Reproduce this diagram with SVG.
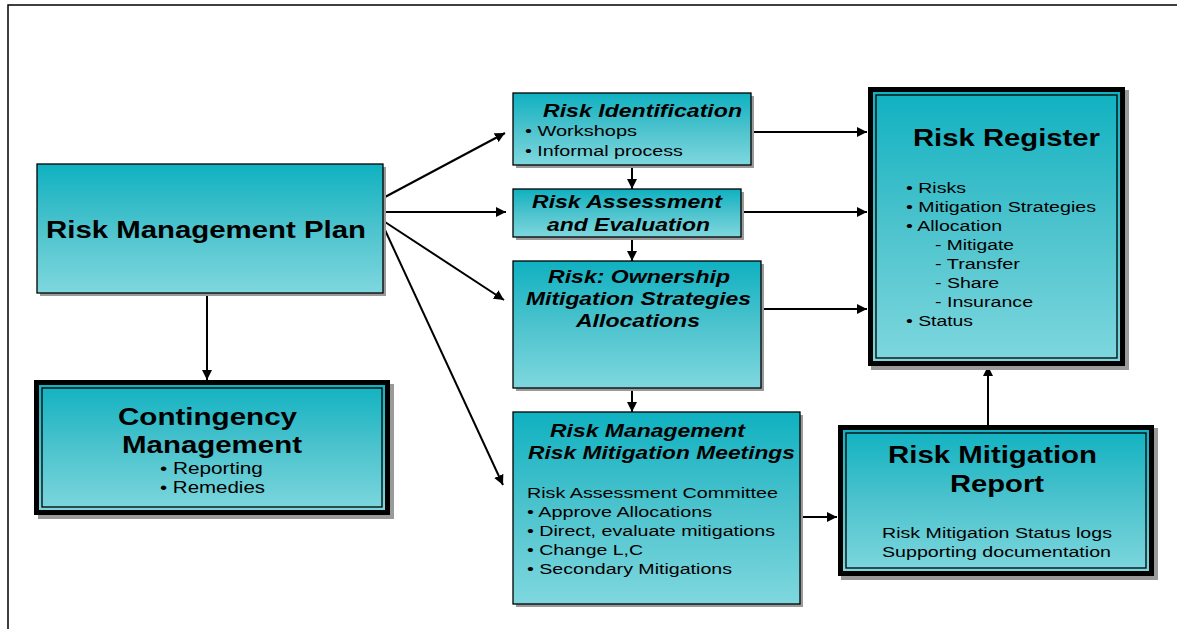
<svg xmlns="http://www.w3.org/2000/svg" width="1177" height="629" viewBox="0 0 1177 629">
<defs>
<linearGradient id="g" x1="0" y1="0" x2="0" y2="1">
<stop offset="0" stop-color="#0fb1c1"/>
<stop offset="0.5" stop-color="#4cc3cd"/>
<stop offset="1" stop-color="#7fd7de"/>
</linearGradient>
<marker id="arr" viewBox="0 0 10 10" refX="10" refY="5" markerWidth="10" markerHeight="10" markerUnits="userSpaceOnUse" orient="auto">
<path d="M0,0 L10,5 L0,10 z" fill="#000"/>
</marker>
<style>
.box{fill:url(#g);stroke:#000;stroke-width:1.3}
.shadow{fill:#9a9a9a}
.thick{fill:url(#g);stroke:#000;stroke-width:5}
.inner{fill:none;stroke:#000;stroke-width:1.3}
.c{stroke:#000;stroke-width:2;fill:none;marker-end:url(#arr)}
text{font-family:"Liberation Sans",Arial,sans-serif;fill:#000}
.t{font-weight:bold}
.ti{font-weight:bold;font-style:italic}
.s{font-size:15.5px}
</style>
</defs>
<rect x="0" y="0" width="1177" height="629" fill="#fff"/>
<rect x="8" y="5" width="1175" height="630" fill="none" stroke="#000" stroke-width="1.5"/>

<g id="connectors">
<line class="c" x1="207" y1="293" x2="207" y2="380"/>
<line class="c" x1="385" y1="197" x2="505" y2="133"/>
<line class="c" x1="385" y1="212" x2="506" y2="212"/>
<line class="c" x1="385" y1="222" x2="504" y2="300"/>
<line class="c" x1="385" y1="230" x2="503" y2="485"/>
<line class="c" x1="632" y1="165" x2="632" y2="189"/>
<line class="c" x1="632" y1="237" x2="632" y2="261"/>
<line class="c" x1="632" y1="388" x2="632" y2="412"/>
<line class="c" x1="751" y1="132" x2="867" y2="132"/>
<line class="c" x1="741" y1="212" x2="867" y2="212"/>
<line class="c" x1="761" y1="309" x2="867" y2="309"/>
<line class="c" x1="800" y1="517" x2="837" y2="517"/>
<line class="c" x1="988" y1="425" x2="988" y2="366"/>
</g>

<g id="risk-management-plan">
<rect class="shadow" x="40" y="167" width="346" height="129"/>
<rect class="box" x="37" y="164" width="346" height="129"/>
<text class="t" transform="matrix(1.27 0 0 1 46 238)" font-size="23" textLength="252" lengthAdjust="spacingAndGlyphs">Risk Management Plan</text>
</g>

<g id="contingency-management">
<rect class="shadow" x="38" y="384" width="356" height="135"/>
<rect class="thick" x="36.5" y="382.5" width="351" height="130"/>
<rect class="inner" x="42" y="388" width="340" height="119"/>
<text class="t" transform="matrix(1.27 0 0 1 118 425)" font-size="24" textLength="141" lengthAdjust="spacingAndGlyphs">Contingency</text>
<text class="t" transform="matrix(1.27 0 0 1 122 453)" font-size="24" textLength="141.7" lengthAdjust="spacingAndGlyphs">Management</text>
<text transform="matrix(1.27 0 0 1 160 474)" font-size="16" textLength="81" lengthAdjust="spacingAndGlyphs">•  Reporting</text>
<text transform="matrix(1.27 0 0 1 160 493)" font-size="16" textLength="82.7" lengthAdjust="spacingAndGlyphs">•  Remedies</text>
</g>

<g id="risk-identification">
<rect class="shadow" x="516" y="96" width="238" height="72"/>
<rect class="box" x="513" y="93" width="238" height="72"/>
<text class="ti" transform="matrix(1.27 0 0 1 543 117)" font-size="19" textLength="156.7" lengthAdjust="spacingAndGlyphs">Risk Identification</text>
<text class="s" transform="matrix(1.27 0 0 1 525 136)" textLength="88.2" lengthAdjust="spacingAndGlyphs">• Workshops</text>
<text class="s" transform="matrix(1.27 0 0 1 525 156)" textLength="124.4" lengthAdjust="spacingAndGlyphs">• Informal process</text>
</g>

<g id="risk-assessment">
<rect class="shadow" x="516" y="192" width="228" height="48"/>
<rect class="box" x="513" y="189" width="228" height="48"/>
<text class="ti" transform="matrix(1.27 0 0 1 532 208)" font-size="19" textLength="149.6" lengthAdjust="spacingAndGlyphs">Risk Assessment</text>
<text class="ti" transform="matrix(1.27 0 0 1 547 231)" font-size="19" textLength="128.3" lengthAdjust="spacingAndGlyphs">and Evaluation</text>
</g>

<g id="risk-ownership">
<rect class="shadow" x="516" y="264" width="248" height="127"/>
<rect class="box" x="513" y="261" width="248" height="127"/>
<text class="ti" transform="matrix(1.27 0 0 1 548 283)" font-size="19" textLength="143.3" lengthAdjust="spacingAndGlyphs">Risk: Ownership</text>
<text class="ti" transform="matrix(1.27 0 0 1 526 305)" font-size="19" textLength="177.2" lengthAdjust="spacingAndGlyphs">Mitigation Strategies</text>
<text class="ti" transform="matrix(1.27 0 0 1 576 327)" font-size="19" textLength="97.6" lengthAdjust="spacingAndGlyphs">Allocations</text>
</g>

<g id="risk-meetings">
<rect class="shadow" x="516" y="415" width="287" height="192"/>
<rect class="box" x="513" y="412" width="287" height="192"/>
<text class="ti" transform="matrix(1.27 0 0 1 550 437)" font-size="19" textLength="153.5" lengthAdjust="spacingAndGlyphs">Risk Management</text>
<text class="ti" transform="matrix(1.27 0 0 1 528 459)" font-size="19" textLength="210.2" lengthAdjust="spacingAndGlyphs">Risk Mitigation Meetings</text>
<text class="s" transform="matrix(1.27 0 0 1 527 498)" textLength="197.6" lengthAdjust="spacingAndGlyphs">Risk Assessment Committee</text>
<text class="s" transform="matrix(1.27 0 0 1 527 517)" textLength="145.7" lengthAdjust="spacingAndGlyphs">• Approve Allocations</text>
<text class="s" transform="matrix(1.27 0 0 1 527 536)" textLength="195.3" lengthAdjust="spacingAndGlyphs">• Direct, evaluate mitigations</text>
<text class="s" transform="matrix(1.27 0 0 1 527 555)" textLength="91.3" lengthAdjust="spacingAndGlyphs">• Change L,C</text>
<text class="s" transform="matrix(1.27 0 0 1 527 574)" textLength="161.4" lengthAdjust="spacingAndGlyphs">• Secondary Mitigations</text>
</g>

<g id="risk-register">
<rect class="shadow" x="871" y="90" width="258" height="280"/>
<rect class="thick" x="870.5" y="89.5" width="252" height="274"/>
<rect class="inner" x="876" y="95" width="241" height="263"/>
<text class="t" transform="matrix(1.27 0 0 1 913 146)" font-size="24" textLength="147.2" lengthAdjust="spacingAndGlyphs">Risk Register</text>
<text class="s" transform="matrix(1.27 0 0 1 906 193)" textLength="47.2" lengthAdjust="spacingAndGlyphs">• Risks</text>
<text class="s" transform="matrix(1.27 0 0 1 906 212)" textLength="149.6" lengthAdjust="spacingAndGlyphs">• Mitigation Strategies</text>
<text class="s" transform="matrix(1.27 0 0 1 906 231)" textLength="75.6" lengthAdjust="spacingAndGlyphs">• Allocation</text>
<text class="s" transform="matrix(1.27 0 0 1 935 250)" textLength="62.2" lengthAdjust="spacingAndGlyphs">- Mitigate</text>
<text class="s" transform="matrix(1.27 0 0 1 935 269)" textLength="66.9" lengthAdjust="spacingAndGlyphs">- Transfer</text>
<text class="s" transform="matrix(1.27 0 0 1 935 288)" textLength="50.4" lengthAdjust="spacingAndGlyphs">- Share</text>
<text class="s" transform="matrix(1.27 0 0 1 935 307)" textLength="77.2" lengthAdjust="spacingAndGlyphs">- Insurance</text>
<text class="s" transform="matrix(1.27 0 0 1 906 326)" textLength="52.8" lengthAdjust="spacingAndGlyphs">• Status</text>
</g>

<g id="risk-mitigation-report">
<rect class="shadow" x="841" y="428" width="317" height="152"/>
<rect class="thick" x="840.5" y="427.5" width="311" height="146"/>
<rect class="inner" x="846" y="433" width="300" height="135"/>
<text class="t" transform="matrix(1.27 0 0 1 888 463)" font-size="24" textLength="164.6" lengthAdjust="spacingAndGlyphs">Risk Mitigation</text>
<text class="t" transform="matrix(1.27 0 0 1 950 492)" font-size="24" textLength="74" lengthAdjust="spacingAndGlyphs">Report</text>
<text class="s" transform="matrix(1.27 0 0 1 882 538)" textLength="181.1" lengthAdjust="spacingAndGlyphs">Risk Mitigation Status logs</text>
<text class="s" transform="matrix(1.27 0 0 1 882 557)" textLength="180.3" lengthAdjust="spacingAndGlyphs">Supporting documentation</text>
</g>
</svg>
